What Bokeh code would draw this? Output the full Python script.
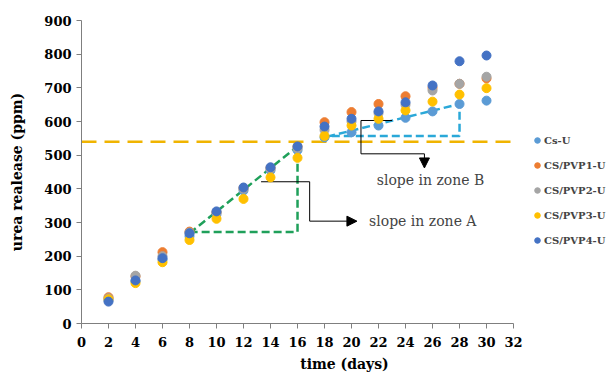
from bokeh.plotting import figure
from bokeh.models import Arrow, NormalHead, Legend, LegendItem, Label, FixedTicker
from bokeh.embed import file_html
from bokeh.resources import INLINE

days = [2, 4, 6, 8, 10, 12, 14, 16, 18, 20, 22, 24, 26, 28, 30]
cs_u   = [70, 125, 190, 260, 325, 395, 455, 515, 553, 568, 588, 611, 630, 652, 662]
pvp1_u = [78, 140, 212, 273, 330, 402, 462, 525, 598, 628, 652, 675, 700, 712, 728]
pvp2_u = [75, 142, 200, 270, 330, 400, 460, 520, 575, 600, 625, 650, 692, 712, 733]
pvp3_u = [72, 120, 182, 248, 311, 370, 434, 492, 557, 588, 608, 633, 659, 680, 699]
pvp4_u = [65, 128, 194, 268, 333, 404, 464, 526, 585, 608, 630, 657, 707, 779, 796]

series_names = ["Cs-U", "CS/PVP1-U", "CS/PVP2-U", "CS/PVP3-U", "CS/PVP4-U"]
series_colors = ["#5B9BD5", "#ED7D31", "#A5A5A5", "#FFC000", "#4472C4"]
x_ticks = list(range(0, 33, 2))
y_ticks = list(range(0, 901, 100))

threshold = 540
threshold_x = [0, 32]
# zone A slope triangle
zoneA_x = [8, 16, 16, 8]
zoneA_y = [268, 526, 272, 272]
# zone B slope triangle
zoneB_x = [18.2, 28, 28, 18.2]
zoneB_y = [555, 652, 557, 557]
# connector lines
connA_x = [13.3, 16.9, 16.9]
connA_y = [421, 421, 304]
arrowA = (16.9, 304, 20.4, 304)
connB_x = [23.0, 20.7, 20.7, 25.4]
connB_y = [603, 603, 504, 504]
arrowB = (25.4, 504, 25.4, 462)
labelA = (21.3, 304, "slope in zone A")
labelB = (25.85, 425, "slope in zone B")

SERIF = "DejaVu Serif"

# frame extends to the right edge (room for legend); the x axis itself stops at 32
p = figure(width=607, height=375, x_range=(0, 38.96), y_range=(0, 900),
           output_backend="svg", toolbar_location=None,
           min_border_left=81, min_border_right=0, min_border_top=20, min_border_bottom=52)
p.outline_line_color = None
p.xgrid.visible = False
p.ygrid.visible = False
p.background_fill_color = "white"

for ax in (p.xaxis[0], p.yaxis[0]):
    ax.axis_line_color = "#7f7f7f"
    ax.major_tick_line_color = "#7f7f7f"
    ax.minor_tick_line_color = None
    ax.major_tick_in = 0
    ax.major_tick_out = 5
    ax.major_label_text_font = SERIF
    ax.major_label_text_font_style = "bold"
    ax.major_label_text_font_size = "13px"
    ax.major_label_text_color = "black"
    ax.axis_label_text_font = SERIF
    ax.axis_label_text_font_style = "bold"
    ax.axis_label_text_font_size = "14px"
    ax.axis_label_text_color = "black"

p.xaxis.bounds = (0, 32)
p.xaxis.ticker = FixedTicker(ticks=x_ticks)
p.yaxis.ticker = FixedTicker(ticks=y_ticks)
p.xaxis.axis_label = "time (days)"
p.yaxis.axis_label = "urea realease (ppm)"
p.xaxis.major_label_standoff = 8
p.yaxis.major_label_standoff = 5
p.xaxis.axis_label_standoff = 6
p.yaxis.axis_label_standoff = 16

p.line(threshold_x, [threshold, threshold], line_color="#F0B400",
       line_width=2.5, line_dash="15 8")

p.line(zoneA_x, zoneA_y, line_color="#1FA05A", line_width=2.5, line_dash="8 4")
p.line(zoneB_x, zoneB_y, line_color="#2AA8D8", line_width=2.5, line_dash="8 4")

p.line(connA_x, connA_y, line_color="black", line_width=1)
p.line(connB_x, connB_y, line_color="black", line_width=1)
p.add_layout(Arrow(end=NormalHead(size=10, fill_color="black", line_color="black"),
                   x_start=arrowA[0], y_start=arrowA[1], x_end=arrowA[2], y_end=arrowA[3],
                   line_color="black", line_width=1))
p.add_layout(Arrow(end=NormalHead(size=10, fill_color="black", line_color="black"),
                   x_start=arrowB[0], y_start=arrowB[1], x_end=arrowB[2], y_end=arrowB[3],
                   line_color="black", line_width=1))

p.add_layout(Label(x=labelA[0], y=labelA[1], text=labelA[2], text_font=SERIF,
                   text_font_size="14px", text_baseline="middle", text_align="left"))
p.add_layout(Label(x=labelB[0], y=labelB[1], text=labelB[2], text_font=SERIF,
                   text_font_size="14px", text_baseline="middle", text_align="center"))

items = []
for name, color, vals in zip(series_names, series_colors, [cs_u, pvp1_u, pvp2_u, pvp3_u, pvp4_u]):
    r = p.scatter(days, vals, size=9, fill_color=color, line_color=color)
    items.append(LegendItem(label=name, renderers=[r]))

legend = Legend(items=items, location=(449, 73), glyph_width=14, glyph_height=20,
                spacing=5, padding=0, margin=0, label_standoff=0,
                label_text_font=SERIF, label_text_font_style="bold",
                label_text_font_size="10px", border_line_color=None,
                background_fill_alpha=0)
p.add_layout(legend, "center")

open("out.html", "w").write(file_html(p, INLINE))
